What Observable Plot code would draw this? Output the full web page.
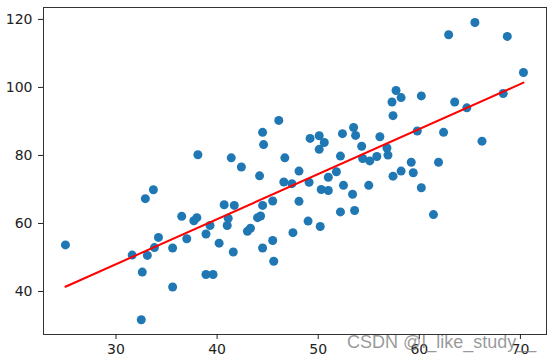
<!DOCTYPE html>
<html>
<head>
<meta charset="utf-8">
<script src="https://cdn.jsdelivr.net/npm/d3@7"></script>
<script src="https://cdn.jsdelivr.net/npm/@observablehq/plot@0.6"></script>
<style>
  html, body { margin: 0; padding: 0; background: #fff; }
  #wrap { position: relative; width: 556px; height: 364px; }
  #wm { position: absolute; left: 347px; top: 332px; font: 18px "Liberation Sans", Arial, sans-serif; color: rgba(120,120,120,0.75); white-space: nowrap; pointer-events: none; }
</style>
</head>
<body>
<div id="wrap"><div id="wm">CSDN @I_like_study__</div></div>
<script>
const xs = [25.0,31.6,32.6,32.5,32.9,33.7,33.1,33.8,34.2,35.6,35.6,36.5,37.0,37.7,38.0,38.9,39.3,38.9,39.6,40.2,
  40.7,41.0,41.1,41.6,41.7,43.0,43.3,42.4,44.2,44.0,44.3,44.5,44.5,45.5,45.5,45.6,38.1,41.4,44.5,44.6,
  46.1,46.7,48.1,46.6,47.4,49.1,48.1,47.5,49.0,50.2,49.2,50.1,50.6,50.1,52.4,53.5,53.7,52.2,54.3,54.4,
  55.1,55.8,56.1,56.8,56.9,57.3,57.7,58.2,57.4,51.0,51.8,50.3,51.0,52.5,53.4,55.0,52.2,53.6,57.4,58.2,
  59.2,59.4,60.2,61.4,61.9,59.8,62.4,60.2,62.9,63.5,64.7,65.5,66.2,68.3,68.7,70.3];
const ys = [53.7,50.7,45.7,31.7,67.3,69.9,50.6,52.9,55.9,52.8,41.3,62.1,55.5,60.8,61.7,56.9,59.4,45.0,45.0,54.2,
  65.5,59.4,61.5,51.6,65.3,57.7,58.6,76.6,74.0,61.7,62.2,52.8,65.3,66.6,55.0,48.9,80.2,79.3,86.8,83.2,
  90.3,79.3,75.4,72.2,71.7,72.1,66.5,57.3,60.7,59.1,85.0,85.8,83.8,81.8,86.4,88.2,85.9,79.8,82.7,79.1,
  78.4,79.7,85.5,82.2,80.1,95.7,99.1,97.0,91.7,73.6,75.2,70.0,69.7,71.2,68.6,71.2,63.4,63.8,73.9,75.4,
  78.0,74.9,70.5,62.6,78.0,87.2,86.8,97.5,115.5,95.7,94.0,119.1,84.2,98.2,115.0,104.4];
const fitX = [25.0, 70.3];
const fitY = [41.4, 101.4];
const xTicks = [30, 40, 50, 60, 70];
const yTicks = [40, 60, 80, 100, 120];

const pts = xs.map((x, i) => ({x, y: ys[i]}));
const fit = fitX.map((x, i) => ({x, y: fitY[i]}));

const chart = Plot.plot({
  width: 556,
  height: 364,
  marginLeft: 43,
  marginRight: 10,
  marginTop: 7,
  marginBottom: 30,
  style: {fontFamily: "DejaVu Sans", fontSize: "14px", color: "#222", background: "#fff"},
  x: {domain: [22.83, 72.58]},
  y: {domain: [27.35, 123.5]},
  marks: [
    Plot.dot(pts, {x: "x", y: "y", r: 4.5, fill: "#1f77b4", stroke: "none"}),
    Plot.line(fit, {x: "x", y: "y", stroke: "red", strokeWidth: 2}),
    Plot.frame({stroke: "#333", strokeWidth: 1}),
    Plot.axisX({ticks: xTicks, tickSize: 5, tickPadding: 5, label: null, fontSize: 14}),
    Plot.axisY({ticks: yTicks, tickSize: 5, tickPadding: 6, label: null, fontSize: 14})
  ]
});
document.getElementById("wrap").prepend(chart);
</script>
</body>
</html>
